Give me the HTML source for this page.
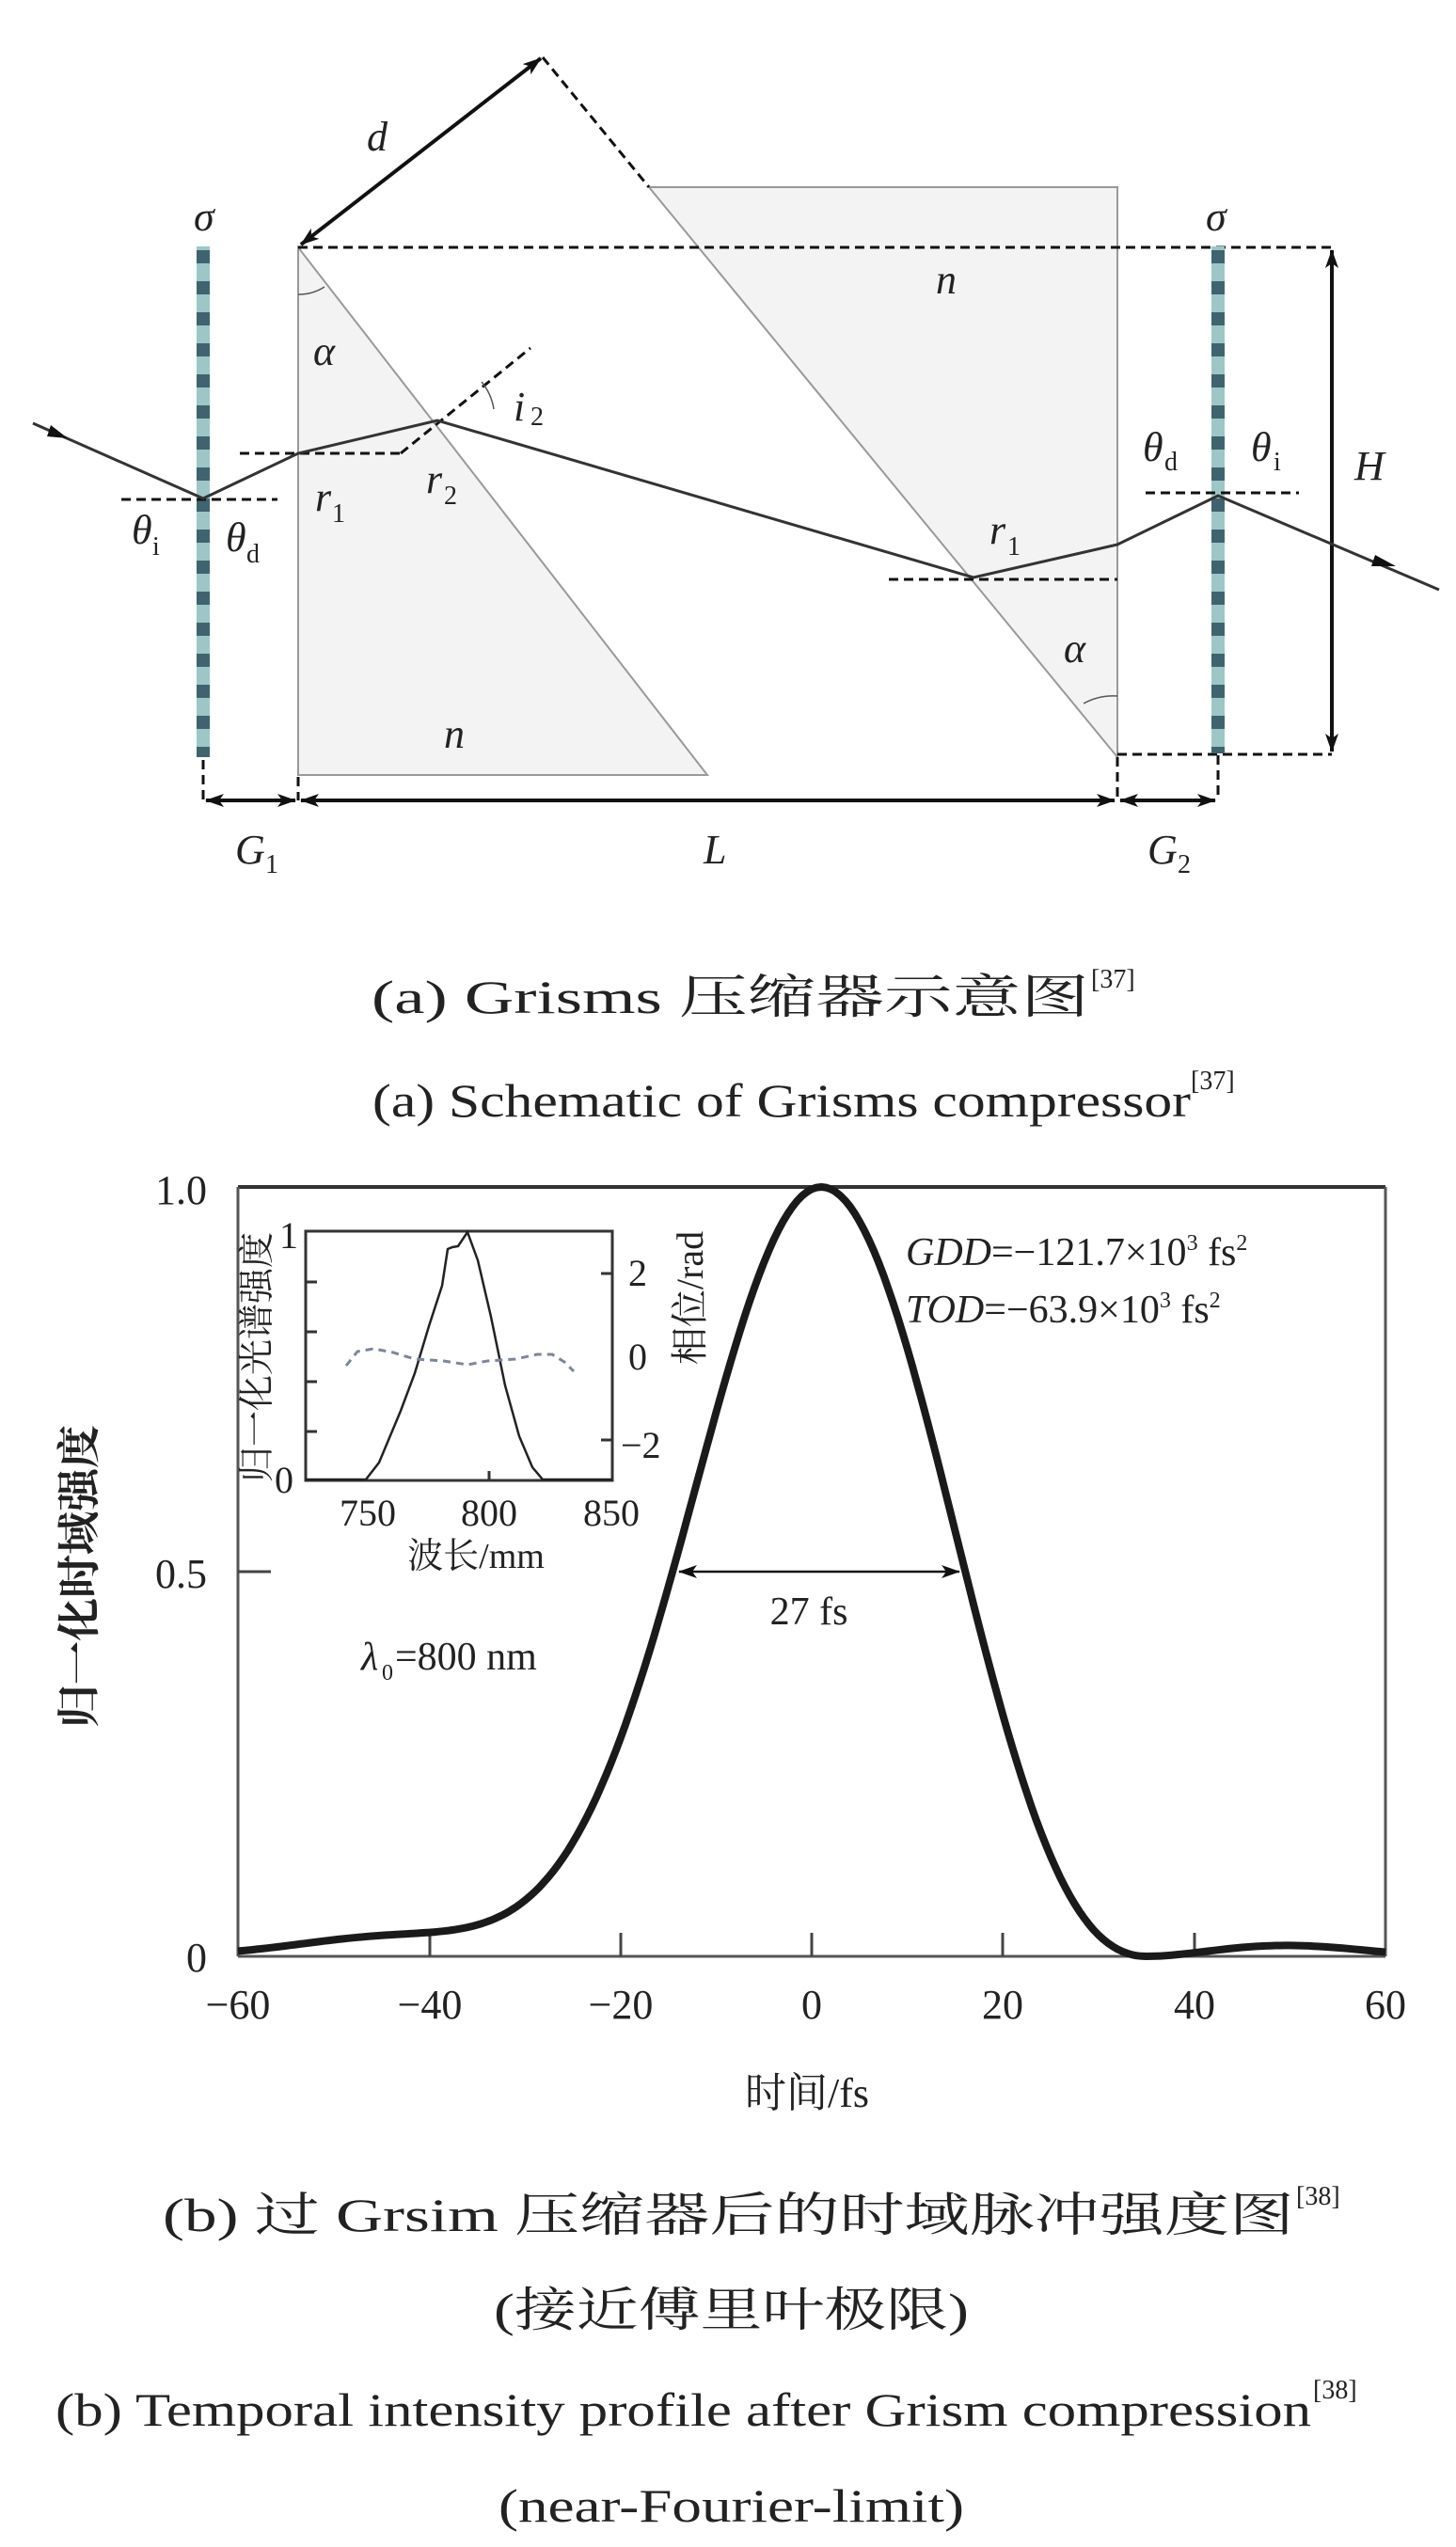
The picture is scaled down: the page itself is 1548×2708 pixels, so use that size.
<!DOCTYPE html>
<html><head><meta charset="utf-8"><style>
html,body{margin:0;padding:0;background:#fff}
svg{display:block}
.s{font-family:"Liberation Serif","Noto Serif CJK SC",serif;fill:#222}
.i{font-style:italic}
</style></head><body>
<svg width="1548" height="2708" viewBox="0 0 1548 2708" xmlns="http://www.w3.org/2000/svg">
<defs>
<pattern id="gr" width="14" height="33" patternUnits="userSpaceOnUse" x="209" y="262">
<rect width="14" height="33" fill="#9cc7c6"/><rect y="4" width="14" height="14" fill="#3f6470"/>
</pattern>
<marker id="ab" viewBox="0 0 20 14" markerWidth="20" markerHeight="14" refX="19" refY="7" orient="auto" markerUnits="userSpaceOnUse"><path d="M0,0 L20,7 L0,14 L5,7 z" fill="#111"/></marker>
<marker id="abs" viewBox="0 0 20 14" markerWidth="20" markerHeight="14" refX="1" refY="7" orient="auto" markerUnits="userSpaceOnUse"><path d="M20,0 L0,7 L20,14 L15,7 z" fill="#111"/></marker>
</defs>

<!-- ===== Schematic ===== -->
<polygon points="317,263 317,824 752,824" fill="#f3f3f3" stroke="#999" stroke-width="2"/>
<polygon points="690,199 1188,199 1188,805" fill="#f3f3f3" stroke="#999" stroke-width="2"/>
<line x1="577" y1="61" x2="690" y2="199" stroke="#111" stroke-width="3" stroke-dasharray="10,6"/>
<line x1="317" y1="263" x2="1416" y2="263" stroke="#111" stroke-width="3" stroke-dasharray="10,6"/>
<line x1="1188" y1="802" x2="1416" y2="802" stroke="#111" stroke-width="3" stroke-dasharray="10,6"/>
<line x1="320" y1="260" x2="575" y2="62" stroke="#111" stroke-width="4" marker-end="url(#ab)" marker-start="url(#abs)"/>
<line x1="1416" y1="266" x2="1416" y2="799" stroke="#111" stroke-width="4" marker-end="url(#ab)" marker-start="url(#abs)"/>
<rect x="209" y="262" width="14" height="543" fill="url(#gr)"/>
<rect x="1288" y="262" width="14" height="539" fill="url(#gr)"/>
<g stroke="#111" stroke-width="3" stroke-dasharray="10,6" fill="none">
<line x1="129" y1="531" x2="295" y2="531"/>
<line x1="255" y1="482" x2="426" y2="482"/>
<line x1="426" y1="482" x2="564" y2="370"/>
<line x1="945" y1="616" x2="1188" y2="616"/>
<line x1="1218" y1="524" x2="1381" y2="524"/>
<line x1="216" y1="808" x2="216" y2="851"/>
<line x1="317" y1="826" x2="317" y2="851"/>
<line x1="1188" y1="805" x2="1188" y2="851"/>
<line x1="1295" y1="803" x2="1295" y2="851"/>
</g>
<polyline points="35,450 216,530 317,482 465,447 1035,614 1188,579 1295,527 1530,627" fill="none" stroke="#333" stroke-width="3"/>
<path d="M54,452 L72,466 L50,464 z" fill="#111"/>
<path d="M1462,590 L1484,602 L1458,602 z" fill="#111"/>
<g stroke="#111" stroke-width="4">
<line x1="219" y1="851" x2="314" y2="851" marker-end="url(#ab)" marker-start="url(#abs)"/>
<line x1="320" y1="851" x2="1185" y2="851" marker-end="url(#ab)" marker-start="url(#abs)"/>
<line x1="1191" y1="851" x2="1292" y2="851" marker-end="url(#ab)" marker-start="url(#abs)"/>
</g>
<g fill="none" stroke="#555" stroke-width="1.5">
<path d="M317,313 A50,50 0 0 0 345,305"/>
<path d="M1188,740 A65,65 0 0 0 1152,748"/>
<path d="M512,406 A60,60 0 0 1 525,435"/>
</g>
<g class="s i" font-size="44">
<text x="206" y="245">σ</text><text x="1282" y="245">σ</text>
<text x="390" y="160">d</text>
<text x="995" y="312">n</text><text x="472" y="795">n</text>
<text x="333" y="388">α</text><text x="1131" y="704">α</text>
<text x="546" y="447">i</text><text x="1440" y="510">H</text>
<text x="1215" y="490">θ</text><text x="1330" y="490">θ</text>
<text x="335" y="543">r</text><text x="453" y="524">r</text><text x="1052" y="578">r</text>
<text x="140" y="578">θ</text><text x="240" y="586">θ</text>
<text x="250" y="918">G</text><text x="748" y="918">L</text><text x="1220" y="918">G</text>
</g>
<g class="s" font-size="28">
<text x="564" y="452">2</text>
<text x="1238" y="500">d</text><text x="1354" y="500">i</text>
<text x="353" y="555">1</text><text x="472" y="536">2</text><text x="1071" y="590">1</text>
<text x="162" y="590">i</text><text x="262" y="598">d</text>
<text x="282" y="928">1</text><text x="1252" y="928">2</text>
</g>
<text class="s" x="395" y="1077" font-size="50" textLength="763" lengthAdjust="spacingAndGlyphs">(a) Grisms 压缩器示意图</text>
<text class="s" x="1160" y="1050" font-size="28">[37]</text>
<text class="s" x="396" y="1187" font-size="50" textLength="870" lengthAdjust="spacingAndGlyphs">(a) Schematic of Grisms compressor</text>
<text class="s" x="1266" y="1158" font-size="28">[37]</text>

<!-- ===== Chart ===== -->
<line x1="253" y1="1262" x2="1473" y2="1262" stroke="#333" stroke-width="4"/>
<line x1="1473" y1="1262" x2="1473" y2="2080" stroke="#555" stroke-width="3"/>
<line x1="253" y1="1262" x2="253" y2="2080" stroke="#555" stroke-width="3"/>
<line x1="253" y1="2080" x2="1473" y2="2080" stroke="#555" stroke-width="3"/>
<g stroke="#444" stroke-width="3">
<line x1="457" y1="2080" x2="457" y2="2055"/><line x1="660" y1="2080" x2="660" y2="2055"/>
<line x1="863" y1="2080" x2="863" y2="2055"/><line x1="1066" y1="2080" x2="1066" y2="2055"/>
<line x1="1270" y1="2080" x2="1270" y2="2055"/>
<line x1="253" y1="1671" x2="288" y2="1671"/>
</g>
<g class="s" font-size="44" text-anchor="middle">
<text x="253" y="2146">−60</text><text x="457" y="2146">−40</text><text x="660" y="2146">−20</text>
<text x="863" y="2146">0</text><text x="1066" y="2146">20</text><text x="1270" y="2146">40</text><text x="1473" y="2146">60</text>
</g>
<g class="s" font-size="44" text-anchor="end">
<text x="220" y="1280">1.0</text><text x="220" y="1688">0.5</text><text x="220" y="2096">0</text>
</g>
<text class="s" font-size="46" font-weight="bold" transform="translate(100,1676) rotate(-90)" text-anchor="middle">归一化时域强度</text>
<text class="s" font-size="44" x="858" y="2240" text-anchor="middle">时间/fs</text>

<path id="curve" d="" fill="none" stroke="#1a1a1a" stroke-width="8" stroke-linejoin="round"/>
<line x1="722" y1="1671" x2="1020" y2="1671" stroke="#111" stroke-width="2.5" marker-end="url(#ab)" marker-start="url(#abs)"/>
<text class="s" font-size="42" x="860" y="1727" text-anchor="middle">27 fs</text>
<text class="s i" font-size="42" x="384" y="1775">λ</text><text class="s" font-size="24" x="406" y="1786">0</text>
<text class="s" font-size="42" x="420" y="1775">=800 nm</text>
<text class="s" font-size="42" x="963" y="1345"><tspan font-style="italic">GDD</tspan>=−121.7×10<tspan font-size="24" dy="-16">3</tspan><tspan dy="16"> fs</tspan><tspan font-size="24" dy="-16">2</tspan></text>
<text class="s" font-size="42" x="963" y="1406"><tspan font-style="italic">TOD</tspan>=−63.9×10<tspan font-size="24" dy="-16">3</tspan><tspan dy="16"> fs</tspan><tspan font-size="24" dy="-16">2</tspan></text>

<rect x="325" y="1309" width="326" height="265" fill="#fff" stroke="#333" stroke-width="3"/>
<g stroke="#333" stroke-width="3">
<line x1="325" y1="1363" x2="337" y2="1363"/><line x1="325" y1="1416" x2="337" y2="1416"/>
<line x1="325" y1="1469" x2="337" y2="1469"/><line x1="325" y1="1522" x2="337" y2="1522"/>
<line x1="651" y1="1354" x2="639" y2="1354"/><line x1="651" y1="1531" x2="639" y2="1531"/>
<line x1="520" y1="1574" x2="520" y2="1564"/>
</g>
<polyline fill="none" stroke="#222" stroke-width="2.5" points="325,1573 389,1573 403,1555 426,1500 441,1460 456,1410 470,1367 476,1328 481,1326 487,1325 497,1310 508,1340 522,1400 537,1473 552,1527 566,1560 577,1573 651,1573"/>
<polyline fill="none" stroke="#7a869c" stroke-width="3" stroke-dasharray="8,6" points="368,1452 380,1437 397,1434 418,1438 441,1445 472,1447 497,1451 518,1447 548,1445 571,1440 587,1440 600,1448 610,1458"/>
<g class="s" font-size="40" text-anchor="middle">
<text x="391" y="1622">750</text><text x="520" y="1622">800</text><text x="650" y="1622">850</text>
</g>
<g class="s" font-size="40">
<text x="297" y="1327">1</text><text x="292" y="1587">0</text>
<text x="668" y="1367">2</text><text x="668" y="1456">0</text><text x="660" y="1550">−2</text>
</g>
<text class="s" font-size="38" x="506" y="1667" text-anchor="middle">波长/mm</text>
<text class="s" font-size="38" transform="translate(286,1443) rotate(-90)" text-anchor="middle">归一化光谱强度</text>
<text class="s" font-size="40" transform="translate(747,1380) rotate(-90)" text-anchor="middle">相位/rad</text>

<text class="s" font-size="50" x="173" y="2372" textLength="1203" lengthAdjust="spacingAndGlyphs">(b) 过 Grsim 压缩器后的时域脉冲强度图</text>
<text class="s" font-size="28" x="1378" y="2344">[38]</text>
<text class="s" font-size="50" x="525" y="2473" textLength="505" lengthAdjust="spacingAndGlyphs">(接近傅里叶极限)</text>
<text class="s" font-size="50" x="59" y="2579" textLength="1335" lengthAdjust="spacingAndGlyphs">(b) Temporal intensity profile after Grism compression</text>
<text class="s" font-size="28" x="1396" y="2550">[38]</text>
<text class="s" font-size="50" x="530" y="2681" textLength="495" lengthAdjust="spacingAndGlyphs">(near-Fourier-limit)</text>
</svg>
<script>
(function(){
  var pts=[];
  for(var t=-60;t<=60.001;t+=0.5){
    var v;
    if(t<1){
      var g=Math.exp(-Math.pow(t-1,2)/(2*13.2*13.2));
      var tail=0.025*Math.exp(-Math.pow((t+44)/14,2));
      v=g+tail;
    } else {
      var u=Math.PI*(t-1)/34, s=(u===0)?1:Math.sin(u)/u;
      v=s*s; if(t>35) v*=0.3;
    }
    var x=863+t*(1220/120), y=2080-v*818;
    pts.push((pts.length?'L':'M')+x.toFixed(1)+','+y.toFixed(1));
  }
  document.getElementById('curve').setAttribute('d',pts.join(' '));
})();
</script>
</body></html>
